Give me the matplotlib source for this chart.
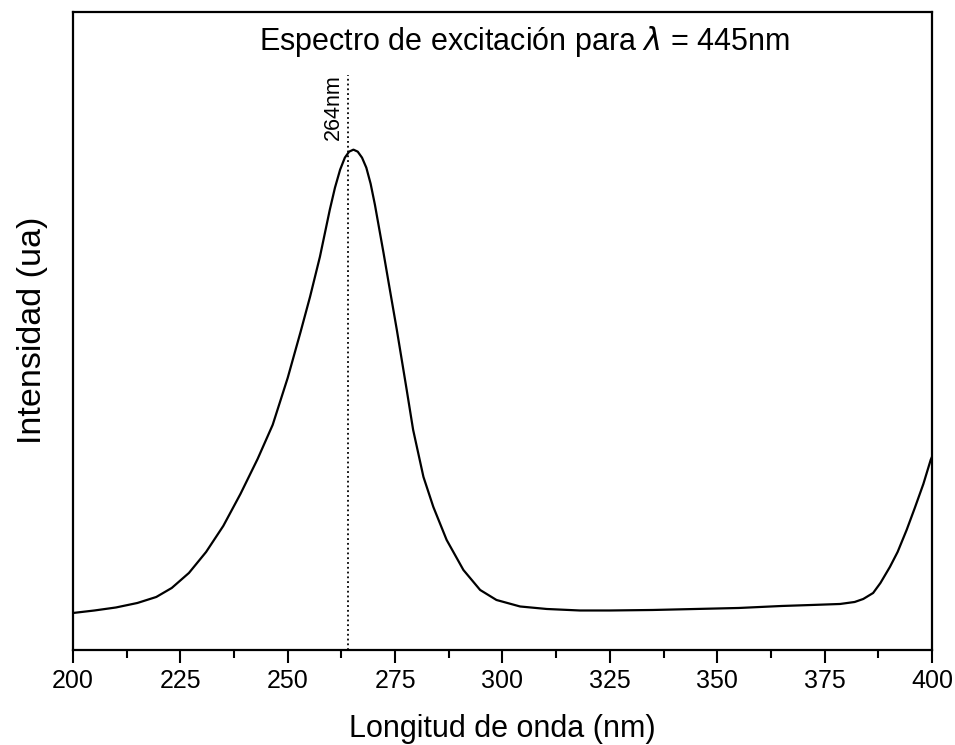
import matplotlib.pyplot as plt
from matplotlib.ticker import MultipleLocator

plt.rcParams['font.family'] = ['Liberation Sans', 'DejaVu Sans']

# excitation spectrum, emission fixed at 445 nm (arbitrary units)
wavelength = [200, 205, 210, 215, 219.4, 223, 227, 231, 235, 239, 243, 246.5,
              250, 253, 255.2, 257.5, 259.8, 261, 262.2, 263.3, 264.3, 265.3,
              266.3, 267.3, 268.3, 269.3, 270.3, 272.3, 273.5, 275.4, 277.7,
              279.2, 281.6, 283.9, 287, 290.9, 294.8, 298.6, 304.1, 310.3, 318,
              325, 335, 345, 355, 365, 372, 378.6, 382, 384, 386.3, 388, 390.2,
              392, 394.1, 396, 398, 399.7, 400]
intensity = [37, 39.5, 42.5, 47, 53, 62, 77, 98, 124, 156, 191, 225,
             272, 318, 353, 393, 440, 462, 480, 492, 498, 500,
             498, 492, 482, 466, 445, 397, 367, 320, 260,
             220, 173, 143, 110, 80, 60, 50, 43.5, 41, 39.5,
             39.5, 40, 41, 42, 44, 45, 46, 48, 51, 57, 67, 83,
             98, 120, 142, 166, 190, 193]

peak_nm = 264
peak_line_top = 575

fig = plt.figure(figsize=(9.55, 7.45), dpi=100)
ax = fig.add_axes([0.0764, 0.1275, 0.8995, 0.857])

ax.plot(wavelength, intensity, color='black', linewidth=1.6)
ax.vlines(peak_nm, 0, peak_line_top, colors='black', linestyles=':', linewidth=1.3)
ax.annotate(f'{peak_nm}nm', xy=(peak_nm, peak_line_top), xytext=(-3, 0),
            textcoords='offset points', rotation=90, ha='right', va='top',
            fontsize=15.5)

ax.text(0.526, 0.94, r'Espectro de excitación para $\lambda$ = 445nm',
        transform=ax.transAxes, ha='center', va='baseline', fontsize=22)

ax.set_xlim(200, 400)
ax.set_ylim(0, 638)
ax.xaxis.set_major_locator(MultipleLocator(25))
ax.xaxis.set_minor_locator(MultipleLocator(12.5))
ax.tick_params(axis='x', which='major', direction='out', length=9, width=1.5,
               labelsize=18, pad=5)
ax.tick_params(axis='x', which='minor', direction='out', length=6, width=1.5)
ax.set_yticks([])

for spine in ax.spines.values():
    spine.set_linewidth(1.6)

ax.set_xlabel('Longitud de onda (nm)', fontsize=22, labelpad=15)
ax.set_ylabel('Intensidad (ua)', fontsize=24.5, labelpad=18)

plt.savefig('out.png', dpi=100)
plt.close()
